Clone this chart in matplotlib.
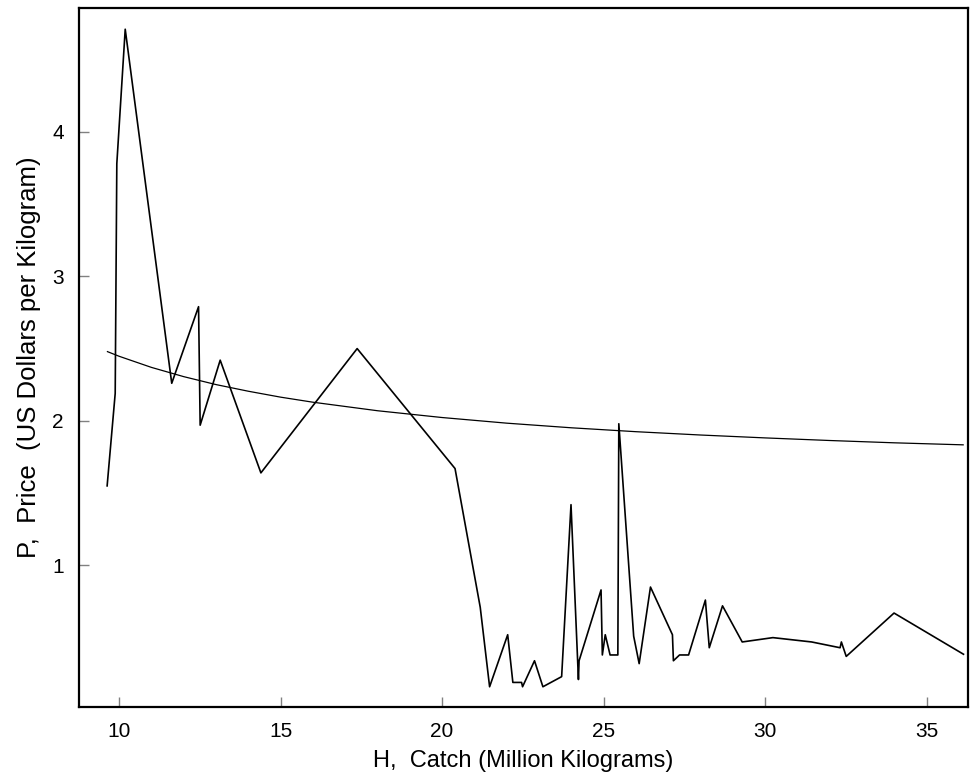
import matplotlib
matplotlib.use("Agg")
import matplotlib.pyplot as plt

plt.rcParams['font.family'] = ['Liberation Sans', 'DejaVu Sans']

catch = [9.63, 9.88, 9.93, 10.19, 11.63, 12.46, 12.51, 13.13, 14.39, 17.37,
         20.40, 21.18, 21.47, 22.03, 22.19, 22.46, 22.49, 22.86, 23.12, 23.70,
         23.99, 24.22, 24.24, 24.92, 24.96, 25.05, 25.20, 25.44, 25.47, 25.93,
         26.10, 26.45, 27.13, 27.16, 27.35, 27.63, 28.15, 28.27, 28.68, 29.29,
         30.24, 31.44, 32.32, 32.36, 32.51, 33.99, 36.14]
price = [1.55, 2.19, 3.78, 4.71, 2.26, 2.79, 1.97, 2.42, 1.64, 2.50,
         1.67, 0.71, 0.16, 0.52, 0.19, 0.19, 0.16, 0.34, 0.16, 0.23,
         1.42, 0.21, 0.34, 0.83, 0.38, 0.52, 0.38, 0.38, 1.98, 0.51,
         0.32, 0.85, 0.52, 0.34, 0.38, 0.38, 0.76, 0.43, 0.72, 0.47,
         0.50, 0.47, 0.43, 0.47, 0.37, 0.67, 0.385]

# fitted demand curve
fit_h = [9.64, 10, 11, 12, 13, 14, 15, 16, 18, 20, 22, 24, 26, 28, 30, 32, 34, 36.13]
fit_p = [2.479, 2.447, 2.370, 2.306, 2.251, 2.205, 2.164, 2.129, 2.070, 2.023,
         1.984, 1.952, 1.925, 1.902, 1.882, 1.864, 1.848, 1.834]

x_ticks = [10, 15, 20, 25, 30, 35]
y_ticks = [1, 2, 3, 4]

fig = plt.figure(figsize=(9.72, 7.77), dpi=100)
ax = fig.add_axes([0.0813, 0.0901, 0.9146, 0.9002])

ax.plot(catch, price, color='black', linewidth=1.2)
ax.plot(fit_h, fit_p, color='black', linewidth=0.9)

ax.set_xlim(8.76, 36.28)
ax.set_ylim(0.02, 4.86)
ax.set_xticks(x_ticks)
ax.set_yticks(y_ticks)
ax.tick_params(direction='in', length=7, width=1, color='#808080',
               labelsize=15, pad=11)
for s in ax.spines.values():
    s.set_linewidth(1.6)

ax.set_xlabel('H,  Catch (Million Kilograms)', fontsize=17, labelpad=6)
ax.set_ylabel('P,  Price  (US Dollars per Kilogram)', fontsize=18.5, labelpad=8)

fig.savefig('out.png', dpi=100)
